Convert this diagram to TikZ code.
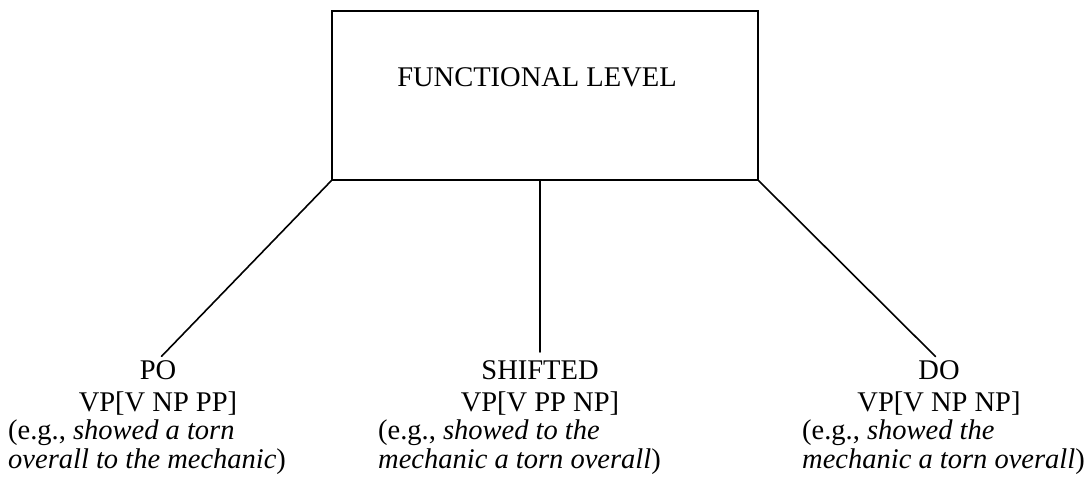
\documentclass[tikz,border=0pt]{standalone}
\usepackage{fontspec}
\setmainfont{Liberation Serif}
\begin{document}
\begin{tikzpicture}[x=1pt,y=-1pt,
  treeline/.style={line width=1.6pt, line cap=round},
  levelbox/.style={draw, line width=1.6pt, inner sep=0pt,
    minimum width=426pt, minimum height=169pt},
  formhead/.style={inner sep=0pt, anchor=north, align=center,
    font=\fontsize{28.5}{32}\selectfont},
  example/.style={inner sep=0pt, anchor=north west, align=left,
    font=\fontsize{28.5}{29}\selectfont},
  title/.style={inner sep=0pt, anchor=base, font=\fontsize{28.5}{32}\selectfont}]
\useasboundingbox (0,0) rectangle (1087,487);

% functional level box
\node[levelbox] (box) at (545,95.5) {};
\node[title] (level) at (537,86) {FUNCTIONAL LEVEL};

% the three structures
\node[formhead] (po) at (158,360) {PO\\VP[V NP PP]};
\node[formhead] (shifted) at (540,360) {SHIFTED\\VP[V PP NP]};
\node[formhead] (do) at (939,360) {DO\\VP[V NP NP]};

\node[example] (poex) at (8,419.5)
  {(e.g., \textit{showed a torn}\\\textit{overall to the mechanic})};
\node[example] (shiftedex) at (378,419.5)
  {(e.g., \textit{showed to the}\\\textit{mechanic a torn overall})};
\node[example] (doex) at (802,419.5)
  {(e.g., \textit{showed the}\\\textit{mechanic a torn overall})};

% branches
\draw[treeline, shorten >=5pt] (box.south west) -- (po.north);
\draw[treeline, shorten >=8pt] (shifted.north |- box.south) -- (shifted.north);
\draw[treeline, shorten >=5pt] (box.south east) -- (do.north);
\end{tikzpicture}
\end{document}
